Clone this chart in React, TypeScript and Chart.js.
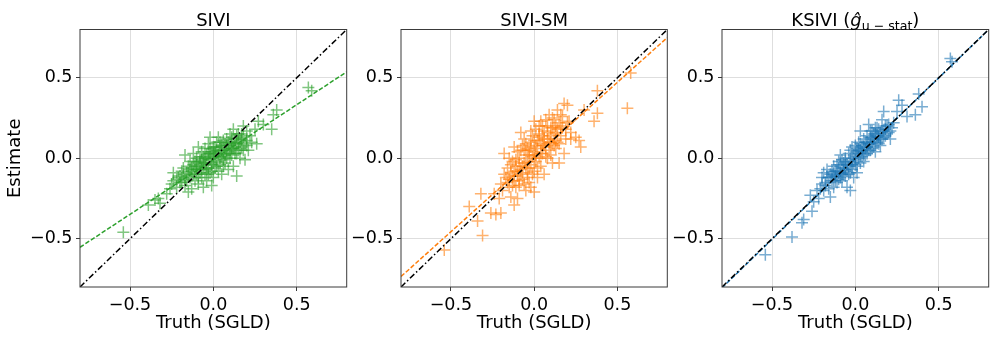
import { useEffect, useRef } from 'react';
import { Chart, registerables } from 'chart.js';

Chart.register(...registerables);

// ---------- data ----------
const axisMin = -0.8;
const axisMax = 0.8;
const tickValues = [-0.5, 0, 0.5];
const tickLabels = ['\u22120.5', '0.0', '0.5'];
const xAxisLabel = 'Truth (SGLD)';
const yAxisLabel = 'Estimate';
const siviTitle = 'SIVI';
const smTitle = 'SIVI-SM';
const ksiviTitleMain = 'KSIVI (';
const ksiviTitleSymbol = '\u011D';
const ksiviTitleSub = 'u \u2212 stat';
const ksiviTitleClose = ')';

const lineX = [-0.8, 0.8];
const identityY = [-0.8, 0.8];
const siviFitY = [-0.553, 0.537];
const smFitY = [-0.735, 0.75];
const ksiviFitY = [-0.805, 0.8];

const siviPoints: [number, number][] = [
  [-0.54, -0.46], [-0.39, -0.29], [-0.35, -0.26], [-0.32, -0.28], [-0.33, -0.25], [-0.28, -0.22],
  [-0.25, -0.16], [-0.24, -0.09], [-0.22, -0.18], [-0.21, -0.12], [-0.2, -0.11], [-0.19, -0.15],
  [-0.18, -0.06], [-0.17, 0.02], [-0.17, -0.13], [-0.16, -0.09], [-0.15, -0.21], [-0.15, -0.05],
  [-0.14, -0.12], [-0.14, -0.02], [-0.13, -0.19], [-0.13, -0.08], [-0.12, -0.04], [-0.12, 0.03],
  [-0.11, -0.14], [-0.11, -0.07], [-0.1, -0.1], [-0.1, 0.0], [-0.09, 0.07], [-0.09, -0.05],
  [-0.09, -0.16], [-0.08, -0.02], [-0.08, -0.09], [-0.07, 0.04], [-0.07, -0.12], [-0.06, -0.18],
  [-0.06, -0.06], [-0.06, 0.01], [-0.05, -0.03], [-0.05, 0.06], [-0.05, -0.1], [-0.04, -0.14],
  [-0.04, 0.02], [-0.03, -0.06], [-0.03, 0.09], [-0.02, 0.13], [-0.02, -0.01], [-0.02, -0.09],
  [-0.01, -0.17], [-0.01, 0.04], [-0.01, -0.04], [0.0, 0.0], [0.0, 0.07], [0.0, -0.12],
  [0.01, -0.06], [0.01, 0.03], [0.02, 0.1], [0.02, -0.02], [0.03, 0.13], [0.03, 0.05],
  [0.03, -0.08], [0.04, 0.01], [0.04, -0.04], [0.05, 0.08], [0.05, -0.1], [0.06, 0.03],
  [0.06, 0.11], [0.07, -0.03], [0.07, 0.06], [0.08, 0.0], [0.08, 0.12], [0.09, 0.04],
  [0.09, -0.07], [0.1, 0.08], [0.1, 0.15], [0.11, 0.02], [0.11, 0.1], [0.12, 0.18],
  [0.12, -0.05], [0.12, 0.06], [0.13, 0.12], [0.13, 0.03], [0.14, -0.11], [0.14, 0.09],
  [0.15, 0.15], [0.15, 0.05], [0.16, 0.11], [0.16, 0.0], [0.17, 0.07], [0.18, 0.2],
  [0.18, 0.13], [0.19, -0.01], [0.19, 0.09], [0.2, 0.11], [0.2, 0.17], [0.21, 0.05],
  [0.22, 0.14], [0.23, 0.1], [0.25, 0.18], [0.26, 0.09], [0.27, 0.23], [0.3, 0.21],
  [0.35, 0.18], [0.36, 0.27], [0.38, 0.3], [0.57, 0.44], [0.59, 0.42],
  [-0.1, -0.03], [-0.04, -0.07], [0.02, 0.05], [0.06, -0.01], [-0.07, -0.01], [0.04, 0.07],
  [-0.12, -0.1], [0.1, 0.03], [-0.16, -0.14], [-0.2, -0.15], [0.08, 0.05], [0.14, 0.14],
  [-0.03, 0.03], [0.0, 0.04], [-0.08, -0.05], [0.05, 0.01], [-0.14, -0.07], [0.11, 0.06],
  [-0.18, -0.1], [0.17, 0.12], [-0.02, 0.06], [0.07, 0.09],
  [-0.15, -0.11], [-0.13, -0.06], [-0.11, -0.02], [-0.1, -0.07], [-0.09, -0.12], [-0.08, 0.01],
  [-0.07, -0.07], [-0.06, -0.03], [-0.05, 0.0], [-0.04, -0.04], [-0.03, -0.1], [-0.03, 0.0],
  [-0.02, 0.03], [-0.01, -0.08], [0.0, -0.03], [0.01, 0.01], [0.01, 0.07], [0.02, -0.05],
  [0.03, 0.02], [0.04, 0.1], [0.05, 0.05], [0.06, -0.05], [0.07, 0.02], [0.08, 0.08],
  [0.09, 0.1], [0.1, 0.0], [0.11, 0.13], [0.12, 0.09], [0.13, 0.07], [0.14, 0.03],
  [0.15, 0.1], [0.16, 0.06], [0.17, 0.15], [0.18, 0.05], [0.2, 0.08], [-0.17, -0.17],
  [-0.19, -0.08], [-0.22, -0.13], [-0.24, -0.14], [-0.26, -0.19],
];

const smPoints: [number, number][] = [
  [-0.54, -0.57], [-0.39, -0.3], [-0.34, -0.39], [-0.31, -0.48], [-0.32, -0.22], [-0.26, -0.34],
  [-0.24, -0.22], [-0.23, -0.35], [-0.2, -0.34], [-0.2, -0.16], [-0.19, -0.2], [-0.18, 0.03],
  [-0.17, -0.12], [-0.16, -0.06], [-0.15, -0.18], [-0.14, -0.24], [-0.14, -0.09], [-0.13, -0.02],
  [-0.12, -0.29], [-0.12, -0.14], [-0.11, -0.05], [-0.1, -0.25], [-0.1, 0.04], [-0.1, -0.11],
  [-0.09, -0.17], [-0.09, 0.0], [-0.08, 0.16], [-0.08, -0.07], [-0.07, 0.08], [-0.07, -0.13],
  [-0.06, -0.03], [-0.06, 0.12], [-0.05, -0.2], [-0.05, 0.02], [-0.04, -0.09], [-0.04, 0.06],
  [-0.03, 0.05], [-0.03, -0.15], [-0.02, -0.18], [-0.02, 0.1], [-0.02, -0.04], [-0.01, 0.01],
  [-0.01, 0.14], [0.0, -0.08], [0.0, 0.04], [0.0, -0.21], [0.01, 0.18], [0.01, -0.02],
  [0.02, 0.11], [0.02, -0.12], [0.02, 0.06], [0.03, 0.0], [0.03, 0.2], [0.04, 0.23],
  [0.04, -0.05], [0.04, 0.09], [0.05, 0.14], [0.05, 0.03], [0.06, -0.1], [0.06, 0.17],
  [0.07, 0.07], [0.07, 0.24], [0.08, 0.12], [0.08, 0.0], [0.09, 0.27], [0.09, 0.05],
  [0.1, 0.19], [0.1, 0.1], [0.11, 0.19], [0.11, -0.03], [0.12, 0.15], [0.12, 0.24],
  [0.13, 0.06], [0.13, 0.2], [0.14, 0.3], [0.14, 0.1], [0.15, -0.03], [0.15, 0.22],
  [0.16, 0.14], [0.17, 0.26], [0.18, 0.34], [0.18, 0.03], [0.19, 0.18], [0.2, 0.33],
  [0.21, 0.23], [0.22, 0.12], [0.25, 0.13], [0.27, 0.11], [0.28, 0.07], [0.3, 0.3],
  [0.36, 0.23], [0.38, 0.28], [0.38, 0.42], [0.56, 0.31], [0.58, 0.53],
  [-0.08, -0.1], [-0.12, -0.08], [-0.05, -0.06], [0.0, 0.0], [0.06, 0.08], [-0.15, -0.13],
  [0.01, 0.08], [-0.03, 0.02], [0.08, 0.16], [-0.11, -0.18], [0.1, 0.02], [-0.06, 0.05],
  [0.13, 0.16], [-0.02, 0.17], [0.05, 0.2], [-0.04, -0.02], [0.03, 0.13], [-0.09, -0.03],
  [0.11, 0.09], [-0.13, -0.17], [0.16, 0.2],
  [-0.16, -0.15], [-0.14, -0.04], [-0.13, -0.11], [-0.11, -0.01], [-0.1, -0.08], [-0.09, -0.14],
  [-0.08, 0.05], [-0.07, -0.05], [-0.06, -0.16], [-0.05, 0.09], [-0.04, -0.12], [-0.03, -0.06],
  [-0.02, 0.07], [-0.01, -0.1], [0.0, 0.11], [0.01, 0.02], [0.02, -0.06], [0.03, 0.15],
  [0.04, 0.03], [0.05, 0.08], [0.06, 0.12], [0.07, 0.01], [0.08, 0.2], [0.09, 0.1],
  [0.1, 0.14], [0.11, 0.25], [0.12, 0.08], [0.13, 0.11], [0.14, 0.18], [0.15, 0.09],
  [0.16, 0.27], [0.17, 0.19], [0.19, 0.12], [0.2, 0.22], [0.22, 0.16], [-0.18, -0.1],
  [-0.21, -0.25], [-0.12, 0.07], [-0.15, 0.0], [0.0, 0.23],
];

const ksiviPoints: [number, number][] = [
  [-0.54, -0.6], [-0.38, -0.49], [-0.32, -0.4], [-0.31, -0.38], [-0.26, -0.33], [-0.27, -0.23],
  [-0.25, -0.27], [-0.22, -0.25], [-0.21, -0.19], [-0.2, -0.12], [-0.19, -0.2], [-0.18, -0.15],
  [-0.17, -0.07], [-0.16, -0.19], [-0.15, -0.24], [-0.15, -0.1], [-0.14, -0.14], [-0.13, -0.05],
  [-0.13, -0.18], [-0.12, -0.11], [-0.11, -0.08], [-0.11, -0.15], [-0.1, -0.02], [-0.1, -0.13],
  [-0.09, 0.02], [-0.09, -0.09], [-0.08, -0.06], [-0.08, -0.14], [-0.07, -0.03], [-0.07, -0.1],
  [-0.06, 0.0], [-0.06, -0.07], [-0.05, -0.18], [-0.05, -0.04], [-0.04, 0.03], [-0.04, -0.1],
  [-0.03, -0.2], [-0.03, 0.05], [-0.03, -0.02], [-0.02, -0.07], [-0.02, 0.07], [-0.01, -0.03],
  [-0.01, -0.12], [0.0, 0.01], [0.0, 0.08], [0.01, -0.05], [0.01, 0.04], [0.02, 0.0],
  [0.02, 0.1], [0.03, 0.17], [0.03, 0.05], [0.03, -0.03], [0.04, 0.08], [0.04, 0.01],
  [0.05, 0.12], [0.05, -0.02], [0.06, 0.06], [0.06, 0.1], [0.07, 0.03], [0.07, 0.14],
  [0.08, 0.09], [0.08, 0.21], [0.09, 0.05], [0.09, 0.13], [0.1, 0.1], [0.1, 0.17],
  [0.11, 0.07], [0.11, 0.12], [0.12, 0.15], [0.12, 0.04], [0.13, 0.19], [0.13, 0.1],
  [0.14, 0.13], [0.15, 0.16], [0.15, 0.08], [0.16, 0.24], [0.16, 0.12], [0.17, 0.29],
  [0.17, 0.17], [0.18, 0.14], [0.19, 0.2], [0.2, 0.16], [0.21, 0.12], [0.22, 0.19],
  [0.23, 0.22], [0.25, 0.29], [0.26, 0.36], [0.28, 0.33], [0.31, 0.26], [0.36, 0.27],
  [0.38, 0.4], [0.4, 0.32], [0.57, 0.62], [0.58, 0.6],
  [-0.12, -0.08], [-0.06, -0.11], [0.0, -0.04], [0.02, 0.03], [-0.09, -0.04], [0.07, 0.07],
  [-0.14, -0.08], [0.05, 0.03], [-0.02, 0.0], [0.1, 0.06], [-0.17, -0.12], [0.14, 0.18],
  [-0.19, -0.09], [-0.08, -0.01], [0.01, -0.09], [0.09, 0.17], [-0.23, -0.2], [0.18, 0.2],
  [-0.16, -0.12], [-0.14, -0.11], [-0.12, -0.14], [-0.11, -0.04], [-0.1, -0.09], [-0.08, -0.1],
  [-0.07, -0.06], [-0.06, -0.02], [-0.05, -0.08], [-0.04, -0.05], [-0.03, -0.09], [-0.02, -0.04],
  [-0.01, 0.02], [0.0, -0.01], [0.01, 0.06], [0.02, 0.05], [0.03, 0.09], [0.04, 0.04],
  [0.05, 0.07], [0.06, 0.02], [0.07, 0.1], [0.08, 0.05], [0.09, 0.09], [0.1, 0.13],
  [0.11, 0.15], [0.12, 0.11], [0.13, 0.14], [0.14, 0.09], [0.15, 0.12], [0.16, 0.17],
  [0.17, 0.13], [0.18, 0.18], [0.19, 0.15], [0.2, 0.21], [0.21, 0.17], [-0.18, -0.17],
  [-0.2, -0.16], [-0.13, -0.1], [-0.09, -0.12], [0.12, 0.19],
];

// ---------- styling / layout ----------
const FONT = "'DejaVu Sans', sans-serif";
const CANVAS_H = 341;
const AREA_TOP = 29.5;
const X_AXIS_H = 54;

type TitlePart = { text: string; size: number; italic?: boolean; dy?: number };

const panels = [
  {
    left: 0, width: 350, areaLeft: 80, padRight: 3.3,
    points: siviPoints, fitY: siviFitY,
    markerColor: 'rgba(44,160,44,0.6)', lineColor: '#2ca02c',
    title: [{ text: siviTitle, size: 18 }] as TitlePart[],
    showYLabel: true,
  },
  {
    left: 350, width: 320, areaLeft: 51, padRight: 2.7,
    points: smPoints, fitY: smFitY,
    markerColor: 'rgba(255,127,14,0.6)', lineColor: '#ff7f0e',
    title: [{ text: smTitle, size: 18 }] as TitlePart[],
    showYLabel: false,
  },
  {
    left: 670, width: 326, areaLeft: 52, padRight: 7.3,
    points: ksiviPoints, fitY: ksiviFitY,
    markerColor: 'rgba(31,119,180,0.6)', lineColor: '#1f77b4',
    title: [
      { text: ksiviTitleMain, size: 18 },
      { text: ksiviTitleSymbol, size: 18, italic: true },
      { text: ksiviTitleSub, size: 12.6, dy: 4.5 },
      { text: ksiviTitleClose, size: 18 },
    ] as TitlePart[],
    showYLabel: false,
  },
];

const framePlugin = {
  id: 'frameAndTitle',
  afterDraw(chart: any, _args: any, opts: any) {
    const { ctx, chartArea } = chart;
    ctx.save();
    ctx.strokeStyle = '#3a3a3a';
    ctx.lineWidth = 1;
    ctx.strokeRect(chartArea.left, chartArea.top, chartArea.right - chartArea.left, chartArea.bottom - chartArea.top);
    const parts: TitlePart[] = opts.parts || [];
    const fontOf = (p: TitlePart) => `${p.italic ? 'italic ' : ''}${p.size}px ${FONT}`;
    let total = 0;
    for (const p of parts) {
      ctx.font = fontOf(p);
      total += ctx.measureText(p.text).width;
    }
    let x = (chartArea.left + chartArea.right) / 2 - total / 2;
    const baseY = 25.5;
    ctx.fillStyle = '#000';
    ctx.textBaseline = 'alphabetic';
    ctx.textAlign = 'left';
    for (const p of parts) {
      ctx.font = fontOf(p);
      ctx.fillText(p.text, x, baseY + (p.dy || 0));
      x += ctx.measureText(p.text).width;
    }
    ctx.restore();
  },
};

function buildConfig(p: (typeof panels)[number]): any {
  const tickCfg = {
    font: { family: FONT, size: 17.5 },
    color: '#000',
    padding: 3.5,
    maxRotation: 0,
    autoSkip: false,
    callback: (v: number) => tickLabels[tickValues.indexOf(v)] ?? '',
  };
  const gridCfg = {
    color: '#dedede',
    lineWidth: 1,
    drawTicks: true,
    tickLength: 4,
    tickColor: '#3a3a3a',
    tickWidth: 1,
  };
  return {
    type: 'scatter',
    data: {
      datasets: [
        {
          data: lineX.map((x, i) => ({ x, y: identityY[i] })),
          showLine: true, pointRadius: 0, borderColor: '#000', borderWidth: 1.5,
          borderDash: [6, 2.5, 1.5, 2.5], order: 0,
        },
        {
          data: lineX.map((x, i) => ({ x, y: p.fitY[i] })),
          showLine: true, pointRadius: 0, borderColor: p.lineColor, borderWidth: 1.5,
          borderDash: [4.5, 2], order: 1,
        },
        {
          data: p.points.map(([x, y]) => ({ x, y })),
          pointStyle: 'cross', pointRadius: 6, borderWidth: 1.5,
          borderColor: p.markerColor, backgroundColor: p.markerColor, order: 2,
        },
      ],
    },
    options: {
      animation: false,
      responsive: false,
      events: [],
      layout: { autoPadding: false, padding: { top: AREA_TOP, right: p.padRight, bottom: 0, left: 0 } },
      plugins: {
        legend: { display: false },
        tooltip: { enabled: false },
        title: { display: false },
        frameAndTitle: { parts: p.title },
      },
      scales: {
        x: {
          type: 'linear', position: 'bottom', min: axisMin, max: axisMax,
          afterBuildTicks: (axis: any) => { axis.ticks = tickValues.map((v) => ({ value: v })); },
          afterFit: (s: any) => { s.height = X_AXIS_H; },
          ticks: tickCfg, grid: gridCfg, border: { display: false },
          title: { display: true, text: xAxisLabel, color: '#000', font: { family: FONT, size: 18 }, padding: { top: 0, bottom: 7.2 } },
        },
        y: {
          type: 'linear', position: 'left', min: axisMin, max: axisMax,
          afterBuildTicks: (axis: any) => { axis.ticks = tickValues.map((v) => ({ value: v })); },
          afterFit: (s: any) => { s.width = p.areaLeft; },
          ticks: tickCfg, grid: gridCfg, border: { display: false },
          title: { display: p.showYLabel, text: yAxisLabel, color: '#000', font: { family: FONT, size: 18 }, padding: { top: 4.2, bottom: 0 } },
        },
      },
    },
    plugins: [framePlugin],
  };
}

export default function App() {
  const refs = useRef<(HTMLCanvasElement | null)[]>([]);
  useEffect(() => {
    const charts = panels.map((p, i) => new Chart(refs.current[i] as HTMLCanvasElement, buildConfig(p)));
    return () => charts.forEach((c) => c.destroy());
  }, []);
  return (
    <div style={{ position: 'fixed', left: 0, top: 0, width: 996, height: CANVAS_H, background: '#fff' }}>
      {panels.map((p, i) => (
        <canvas
          key={i}
          ref={(el) => { refs.current[i] = el; }}
          width={p.width}
          height={CANVAS_H}
          style={{ position: 'absolute', left: p.left, top: 0, width: p.width, height: CANVAS_H }}
        />
      ))}
    </div>
  );
}
